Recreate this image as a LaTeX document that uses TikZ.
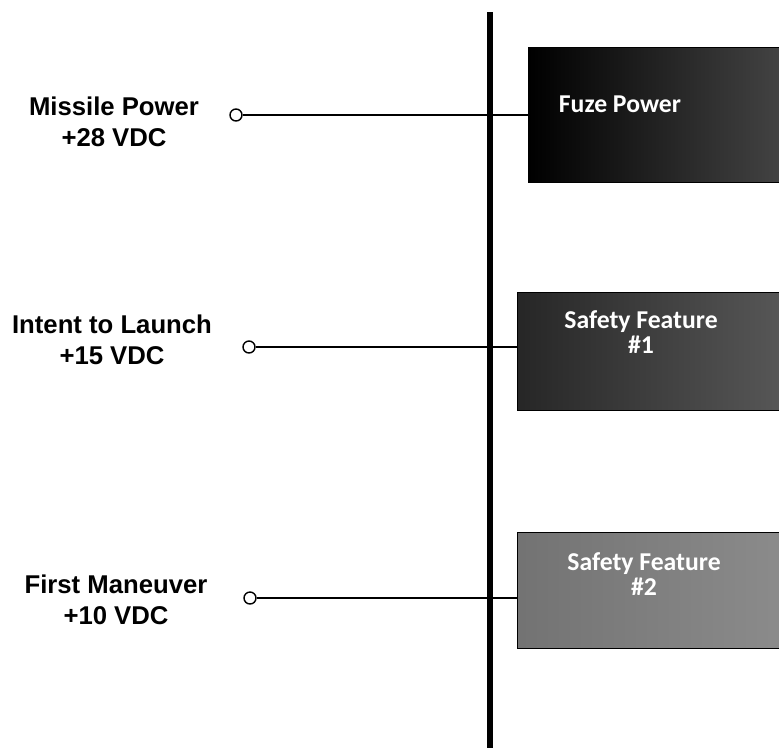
\documentclass[tikz,border=0pt]{standalone}
\usepackage{fontspec}
\newfontfamily\arialfont{Liberation Sans}
\newfontfamily\boxfont{Carlito}
\usetikzlibrary{positioning}

\tikzset{
  inlabel/.style={align=center, font=\arialfont\bfseries\fontsize{25.7}{31}\selectfont, inner sep=0pt},
  pin/.style={circle, draw, line width=1.4pt, fill=white, minimum size=12pt, inner sep=0pt},
  wire/.style={line width=1.6pt},
  fuzebox/.style={rectangle, draw=black, line width=1pt, anchor=north west, inner sep=0pt},
  boxtext/.style={align=center, text=white, font=\boxfont\bfseries\fontsize{25.7}{25}\selectfont, inner sep=0pt}
}

\begin{document}
\begin{tikzpicture}[x=1pt, y=-1pt]

\useasboundingbox (0,0) rectangle (779,748);
\clip (0,0) rectangle (779,748);

% --- Vertical bus ---
\coordinate (bustop) at (490,12);
\coordinate (busbot) at (490,748);
\draw[line width=6.5pt] (bustop) -- (busbot);

% --- Fuze power ---
\node[fuzebox, left color=black, right color=black!72, minimum width=270pt, minimum height=135pt] (fuze) at (528,47) {};
\node[boxtext] (fuzetxt) at (620,104) {Fuze Power};

\node[inlabel] (missile) at (114,122) {Missile Power\\+28 VDC};
\node[pin] (pinA) at (236,115) {};
\draw[wire] (pinA.east) -- (pinA.east -| fuze.west);

% --- Safety feature 1 ---
\node[fuzebox, left color=black!85, right color=black!65, minimum width=280pt, minimum height=118pt] (safeA) at (517,292) {};
\node[boxtext] (safeAtxt) at (641,332) {Safety Feature\\\#1};

\node[inlabel] (intent) at (112,340) {Intent to Launch\\+15 VDC};
\node[pin] (pinB) at (249,347) {};
\draw[wire] (pinB.east) -- (pinB.east -| safeA.west);

% --- Safety feature 2 ---
\node[fuzebox, left color=black!55, right color=black!45, minimum width=280pt, minimum height=116pt] (safeB) at (517,532) {};
\node[boxtext] (safeBtxt) at (644,574) {Safety Feature\\\#2};

\node[inlabel] (maneuver) at (116,600) {First Maneuver\\+10 VDC};
\node[pin] (pinC) at (250,598) {};
\draw[wire] (pinC.east) -- (pinC.east -| safeB.west);

\end{tikzpicture}
\end{document}
